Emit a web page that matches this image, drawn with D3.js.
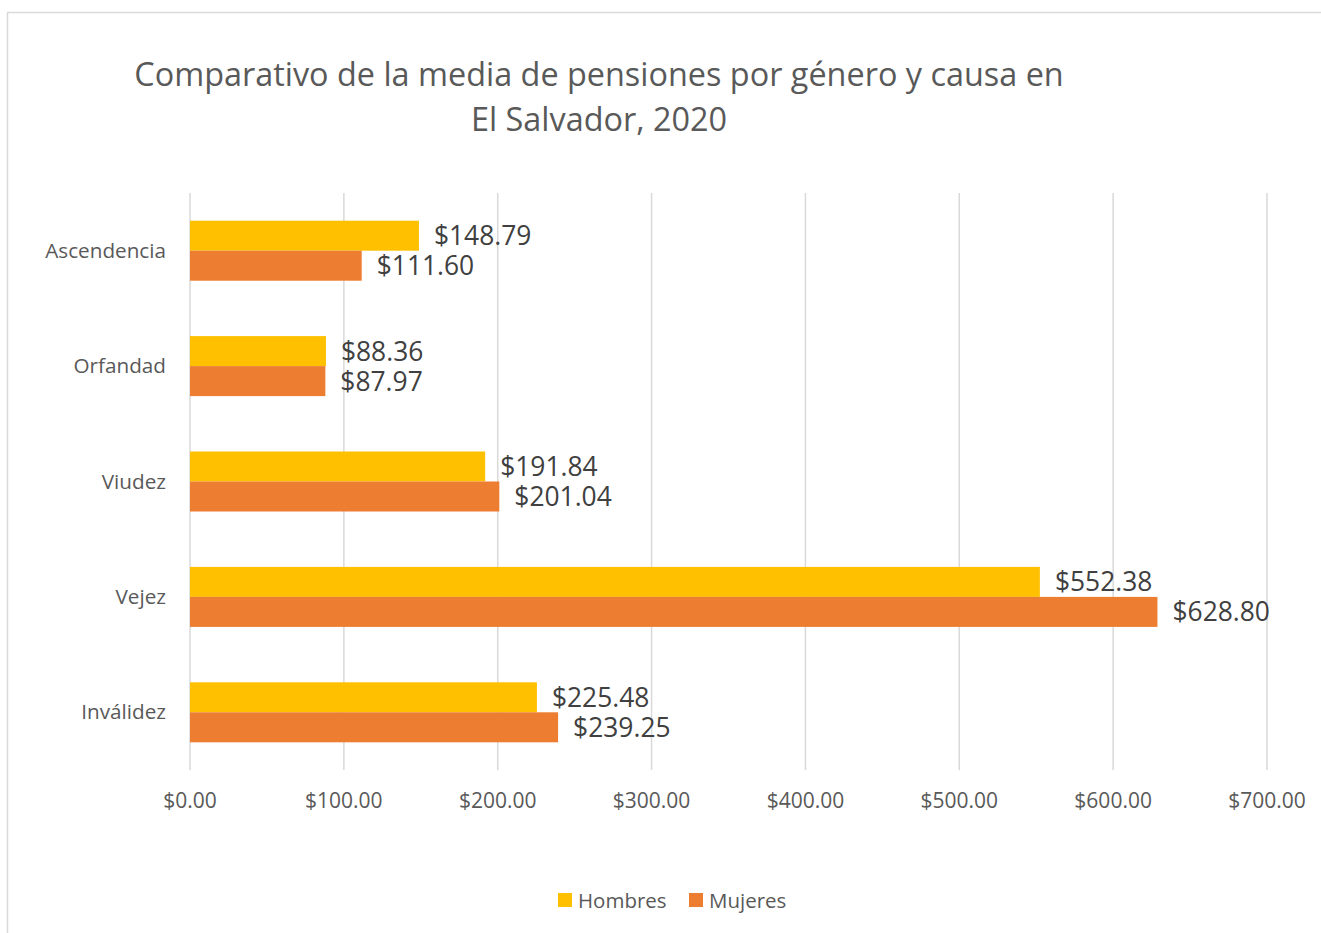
<!DOCTYPE html>
<html>
<head>
<meta charset="utf-8">
<script src="https://cdn.jsdelivr.net/npm/d3@7"></script>
<style>
  body { margin: 0; background: #fff; }
  svg { display: block; font-family: "Open Sans", sans-serif; }
</style>
</head>
<body>
<div id="chart"></div>
<script>
// datos
var categorias = ["Ascendencia", "Orfandad", "Viudez", "Vejez", "Inválidez"];
var hombres = [148.79, 88.36, 191.84, 552.38, 225.48];
var mujeres = [111.60, 87.97, 201.04, 628.80, 239.25];
var series = ["Hombres", "Mujeres"];
var ticks = [0, 100, 200, 300, 400, 500, 600, 700];

var width = 1321, height = 933;
var margin = { top: 193, left: 190, right: 54, bottom: 163 };

var svg = d3.select("#chart").append("svg")
    .attr("width", width)
    .attr("height", height);

// marco del gráfico
svg.append("rect")
    .attr("x", 7.5).attr("y", 12.5)
    .attr("width", width + 20).attr("height", height + 20)
    .attr("fill", "none")
    .attr("stroke", "#d9d9d9")
    .attr("stroke-width", 1.5);

// título
var titulo = svg.append("text")
    .attr("text-anchor", "middle")
    .style("font-size", "32.4px")
    .attr("fill", "#595959");
titulo.append("tspan").attr("x", 599).attr("y", 86)
    .text("Comparativo de la media de pensiones por género y causa en");
titulo.append("tspan").attr("x", 599).attr("y", 131)
    .text("El Salvador, 2020");

var x = d3.scaleLinear()
    .domain([0, 700])
    .range([margin.left, width - margin.right]);

var y = d3.scaleBand()
    .domain(categorias)
    .range([margin.top, height - margin.bottom])
    .paddingInner(0.48)
    .paddingOuter(0.24);

var ySub = d3.scaleBand()
    .domain(series)
    .range([0, y.bandwidth()]);

var color = d3.scaleOrdinal()
    .domain(series)
    .range(["#FFC000", "#ED7D31"]);

// líneas de cuadrícula
svg.append("g")
    .selectAll("line")
    .data(ticks)
    .enter()
    .append("line")
    .attr("x1", function(d) { return x(d); })
    .attr("x2", function(d) { return x(d); })
    .attr("y1", margin.top)
    .attr("y2", height - margin.bottom)
    .attr("stroke", "#d9d9d9")
    .attr("stroke-width", 1.5);

// etiquetas del eje x
svg.append("g")
    .selectAll("text")
    .data(ticks)
    .enter()
    .append("text")
    .attr("x", function(d) { return x(d); })
    .attr("y", 808)
    .attr("text-anchor", "middle")
    .attr("fill", "#595959")
    .style("font-size", "21px")
    .text(function(d) { return "$" + d3.format(".2f")(d); });

// etiquetas de categorías
svg.append("g")
    .selectAll("text")
    .data(categorias)
    .enter()
    .append("text")
    .attr("x", 166)
    .attr("y", function(d) { return y(d) + y.bandwidth() / 2 + 7; })
    .attr("text-anchor", "end")
    .attr("fill", "#595959")
    .style("font-size", "20.7px")
    .text(function(d) { return d; });

var filas = [];
categorias.forEach(function(c, i) {
    filas.push({ cat: c, serie: "Hombres", valor: hombres[i] });
    filas.push({ cat: c, serie: "Mujeres", valor: mujeres[i] });
});

// barras
svg.append("g")
    .selectAll("rect")
    .data(filas)
    .enter()
    .append("rect")
    .attr("x", x(0))
    .attr("y", function(d) { return y(d.cat) + ySub(d.serie); })
    .attr("width", function(d) { return x(d.valor) - x(0); })
    .attr("height", ySub.bandwidth())
    .attr("fill", function(d) { return color(d.serie); });

// etiquetas de datos
svg.append("g")
    .selectAll("text")
    .data(filas)
    .enter()
    .append("text")
    .attr("x", function(d) { return x(d.valor) + 15; })
    .attr("y", function(d) { return y(d.cat) + ySub(d.serie) + ySub.bandwidth() / 2 + 9.5; })
    .attr("fill", "#404040")
    .style("font-size", "26.4px")
    .text(function(d) { return "$" + d3.format(".2f")(d.valor); });

// leyenda
var leyenda = svg.append("g")
    .selectAll("g")
    .data(series)
    .enter()
    .append("g")
    .attr("transform", function(d, i) { return "translate(" + (558 + i * 131) + ",893)"; });

leyenda.append("rect")
    .attr("width", 14)
    .attr("height", 14)
    .attr("fill", function(d) { return color(d); });

leyenda.append("text")
    .attr("x", 20)
    .attr("y", 14.5)
    .attr("fill", "#595959")
    .style("font-size", "20.5px")
    .text(function(d) { return d; });
</script>
</body>
</html>
